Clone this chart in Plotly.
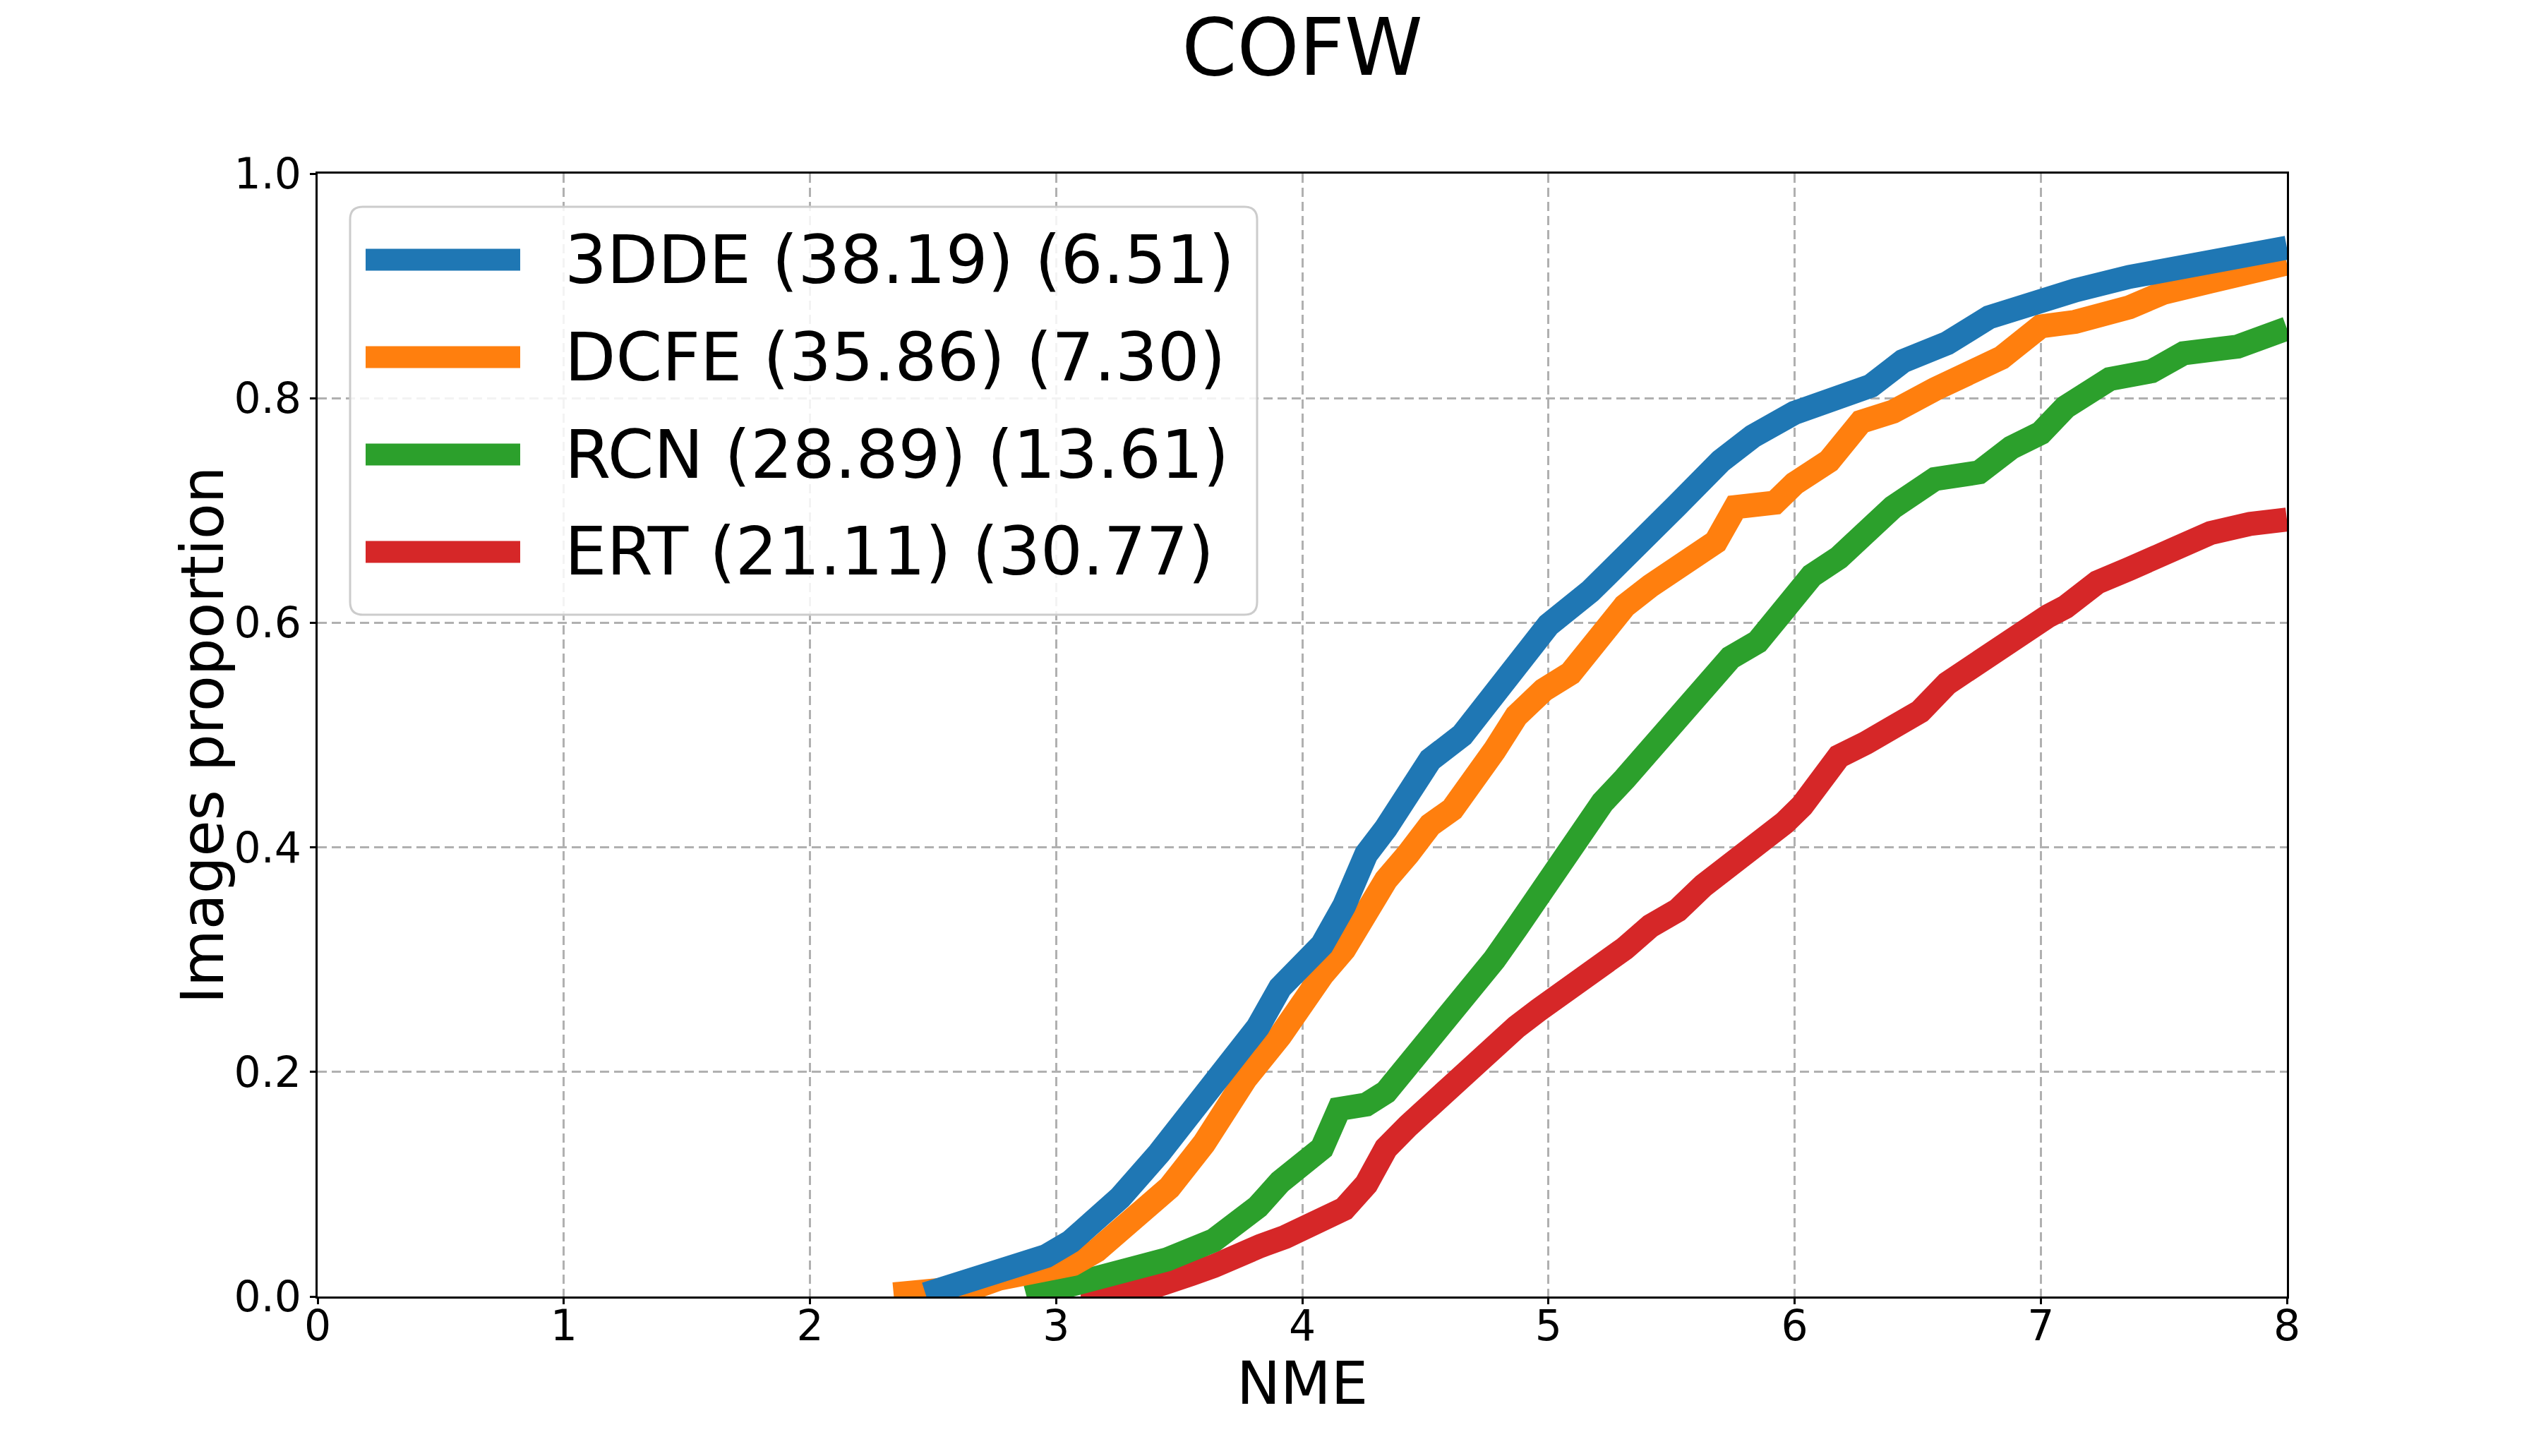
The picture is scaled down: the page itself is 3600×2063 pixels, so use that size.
import plotly.graph_objects as go

# ---------------- data ----------------
series_names = ["3DDE (38.19) (6.51)", "DCFE (35.86) (7.30)", "RCN (28.89) (13.61)", "ERT (21.11) (30.77)"]
series_colors = ["#1f77b4", "#ff7f0e", "#2ca02c", "#d62728"]

x_3dde = [2.47, 2.58, 2.68, 2.77, 2.87, 2.96, 3.06, 3.165, 3.26, 3.42, 3.51, 3.64, 3.73, 3.82, 3.91,
          4.0, 4.08, 4.17, 4.26, 4.34, 4.43, 4.52, 4.65, 4.78, 4.89, 5.0, 5.17, 5.31, 5.52, 5.70,
          5.83, 6.0, 6.16, 6.31, 6.44, 6.62, 6.79, 7.0, 7.14, 7.36, 7.58, 7.80, 8.0]
y_3dde = [0.002, 0.009, 0.016, 0.022, 0.029, 0.036, 0.049, 0.066, 0.088, 0.128, 0.152, 0.19, 0.213, 0.24, 0.275,
          0.294, 0.313, 0.348, 0.394, 0.417, 0.448, 0.478, 0.50, 0.536, 0.563, 0.598, 0.628, 0.661, 0.704, 0.744,
          0.766, 0.787, 0.801, 0.811, 0.833, 0.849, 0.872, 0.888, 0.896, 0.908, 0.916, 0.926, 0.934]

x_dcfe = [2.34, 2.45, 2.59, 2.68, 2.77, 2.87, 2.96, 3.07, 3.165, 3.26, 3.36, 3.46, 3.6, 3.69,
          3.77, 3.91, 4.0, 4.08, 4.17, 4.26, 4.34, 4.43, 4.52, 4.61, 4.69, 4.78, 4.87, 4.98, 5.09,
          5.18, 5.31, 5.415, 5.525, 5.63, 5.68, 5.76, 5.92, 6.0, 6.14, 6.27, 6.40, 6.57, 6.71, 6.84,
          7.0, 7.14, 7.36, 7.50, 7.69, 7.85, 8.0]
y_dcfe = [0.002, 0.004, 0.007, 0.009, 0.016, 0.021, 0.025, 0.029, 0.041, 0.061, 0.078, 0.097, 0.136, 0.17,
          0.194, 0.232, 0.263, 0.286, 0.309, 0.348, 0.371, 0.394, 0.42, 0.434, 0.463, 0.486, 0.517, 0.54, 0.555,
          0.583, 0.615, 0.633, 0.65, 0.667, 0.672, 0.703, 0.707, 0.724, 0.744, 0.779, 0.788, 0.808, 0.824, 0.836,
          0.864, 0.868, 0.881, 0.894, 0.904, 0.91, 0.92]

x_rcn = [2.88, 3.0, 3.07, 3.26, 3.45, 3.64, 3.73, 3.82, 3.91, 4.0, 4.08, 4.15, 4.26, 4.34,
         4.43, 4.52, 4.61, 4.69, 4.78, 4.87, 4.96, 5.04, 5.13, 5.22, 5.31, 5.415, 5.525, 5.63, 5.74,
         5.85, 5.96, 6.07, 6.18, 6.29, 6.40, 6.57, 6.75, 6.88, 7.0, 7.10, 7.28, 7.45, 7.58, 7.80, 8.0]
y_rcn = [0.0, 0.006, 0.011, 0.021, 0.033, 0.05, 0.063, 0.08, 0.102, 0.117, 0.132, 0.167, 0.171, 0.182,
         0.205, 0.232, 0.255, 0.278, 0.30, 0.328, 0.359, 0.386, 0.413, 0.44, 0.461, 0.487, 0.515, 0.543, 0.569,
         0.583, 0.613, 0.642, 0.658, 0.684, 0.703, 0.728, 0.734, 0.756, 0.769, 0.792, 0.817, 0.824, 0.84, 0.846, 0.862]

x_ert = [3.1, 3.26, 3.4, 3.45, 3.55, 3.64, 3.74, 3.83, 3.93, 4.0, 4.08, 4.17, 4.26, 4.34, 4.43,
         4.52, 4.61, 4.69, 4.78, 4.87, 4.96, 5.04, 5.13, 5.22, 5.31, 5.415, 5.525, 5.63, 5.74, 5.85,
         5.96, 6.03, 6.10, 6.18, 6.29, 6.40, 6.51, 6.62, 6.73, 6.84, 6.95, 7.03, 7.10, 7.23, 7.36,
         7.54, 7.69, 7.85, 8.0]
y_ert = [0.0, 0.001, 0.009, 0.014, 0.02, 0.027, 0.039, 0.045, 0.053, 0.059, 0.067, 0.078, 0.10, 0.132, 0.152,
         0.171, 0.19, 0.209, 0.225, 0.24, 0.255, 0.267, 0.278, 0.294, 0.31, 0.33, 0.344, 0.366, 0.383, 0.403,
         0.422, 0.437, 0.456, 0.481, 0.493, 0.507, 0.521, 0.546, 0.563, 0.583, 0.597, 0.606, 0.614, 0.636, 0.648,
         0.664, 0.68, 0.688, 0.692]

x_ticks = [0, 1, 2, 3, 4, 5, 6, 7, 8]
y_ticks = [0.0, 0.2, 0.4, 0.6, 0.8, 1.0]
y_tick_labels = ["0.0", "0.2", "0.4", "0.6", "0.8", "1.0"]

xs = [x_3dde, x_dcfe, x_rcn, x_ert]
ys = [y_3dde, y_dcfe, y_rcn, y_ert]

# ---------------- figure ----------------
W, H = 3600, 2063
ML, MR, MT, MB = 450, 360, 246, 226
PW, PH = W - ML - MR, H - MT - MB
FONT = "DejaVu Sans"

fig = go.Figure()
# drawn in reverse order so that 3DDE lies on top
for i in reversed(range(4)):
    fig.add_trace(go.Scatter(x=xs[i], y=ys[i], mode="lines", name=series_names[i],
                             line=dict(color=series_colors[i], width=34), showlegend=False,
                             hoverinfo="skip"))


def px_x(X):
    return (X - ML) / PW


def px_y(Y):
    return (MT + PH - Y) / PH


# ---- manual legend (matplotlib-style box) ----
bx0, bx1 = px_x(496), px_x(1781)
by1, by0 = px_y(293), px_y(871)
rx, ry = 18 / PW, 18 / PH
box_path = (f"M{bx0+rx},{by1} L{bx1-rx},{by1} Q{bx1},{by1} {bx1},{by1-ry} "
            f"L{bx1},{by0+ry} Q{bx1},{by0} {bx1-rx},{by0} L{bx0+rx},{by0} "
            f"Q{bx0},{by0} {bx0},{by0+ry} L{bx0},{by1-ry} Q{bx0},{by1} {bx0+rx},{by1} Z")
shapes = [dict(type="path", xref="paper", yref="paper", path=box_path,
               line=dict(color="#cccccc", width=3), fillcolor="rgba(255,255,255,0.85)", layer="above")]
annotations = []
row_y = [368, 506, 644, 782]
for i in range(4):
    yy = px_y(row_y[i])
    shapes.append(dict(type="line", xref="paper", yref="paper", x0=px_x(518), x1=px_x(737), y0=yy, y1=yy,
                       line=dict(color=series_colors[i], width=31), layer="above"))
    annotations.append(dict(xref="paper", yref="paper", x=px_x(798), y=yy, xanchor="left", yanchor="middle",
                            text=series_names[i], showarrow=False, font=dict(family=FONT, size=94, color="black")))

# axis titles
annotations.append(dict(xref="paper", yref="paper", x=0.5, y=px_y(1960), xanchor="center", yanchor="middle",
                        text="NME", showarrow=False, font=dict(family=FONT, size=83, color="black")))
annotations.append(dict(xref="paper", yref="paper", x=px_x(287), y=0.5, xanchor="center", yanchor="middle",
                        text="Images proportion", textangle=-90, showarrow=False,
                        font=dict(family=FONT, size=83, color="black")))

axis_common = dict(showline=True, linecolor="black", linewidth=3, mirror=True,
                   ticks="outside", ticklen=8, tickwidth=3, tickcolor="black",
                   showgrid=True, gridcolor="#b0b0b0", gridwidth=3, griddash="13px,7px",
                   zeroline=False, tickfont=dict(family=FONT, size=60, color="black"))

fig.update_layout(
    width=W, height=H,
    margin=dict(l=ML, r=MR, t=MT, b=MB, autoexpand=False),
    paper_bgcolor="white", plot_bgcolor="white",
    title=dict(text="COFW", x=0.5, xref="paper", y=1 - 67 / H, yref="container", yanchor="middle",
               xanchor="center", font=dict(family=FONT, size=112, color="black")),
    xaxis=dict(range=[0, 8], tickvals=x_ticks, ticktext=[str(v) for v in x_ticks],
               ticklabelstandoff=-21, **axis_common),
    yaxis=dict(range=[0, 1], tickvals=y_ticks, ticktext=y_tick_labels, **axis_common),
    shapes=shapes, annotations=annotations, showlegend=False,
)

fig.write_html("out.html")
